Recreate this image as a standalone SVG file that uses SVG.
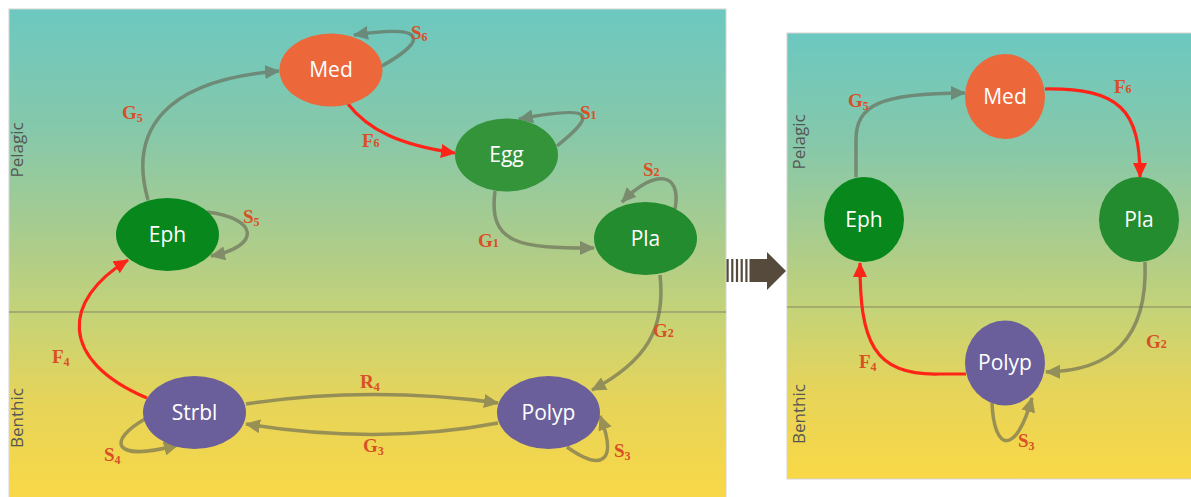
<svg xmlns="http://www.w3.org/2000/svg" width="1191" height="497" viewBox="0 0 1191 497">
  <defs>
    <linearGradient id="water" x1="0" y1="0" x2="0" y2="1">
      <stop offset="0" stop-color="#6cc8c0"/>
      <stop offset="0.25" stop-color="#86c8aa"/>
      <stop offset="0.5" stop-color="#b0cd88"/>
      <stop offset="0.62" stop-color="#c4d378"/>
      <stop offset="0.8" stop-color="#e6d45a"/>
      <stop offset="1" stop-color="#f9d846"/>
    </linearGradient>
    <marker id="ahGray" markerUnits="userSpaceOnUse" markerWidth="16" markerHeight="14" refX="14" refY="7" orient="auto">
      <path d="M0,0 L15,7 L0,14 z" fill="#666654"/>
    </marker>
    <marker id="ahRed" markerUnits="userSpaceOnUse" markerWidth="16" markerHeight="14" refX="14" refY="7" orient="auto">
      <path d="M0,0 L15,7 L0,14 z" fill="#ff2418"/>
    </marker>
  </defs>
  <style>
    .node-text { font-family: "Open Sans", "Noto Sans", sans-serif; font-size: 21px; fill: #ffffff; text-anchor: middle; }
    .zone { font-family: "Open Sans", "Noto Sans", sans-serif; font-size: 17px; fill: #555555; text-anchor: middle; }
    .lbl { font-family: "Liberation Serif", serif; font-weight: bold; font-size: 19px; fill: #d94f26; }
    .sub { font-size: 12px; }
    .gray { fill: none; stroke: #666654; stroke-width: 3.5; marker-end: url(#ahGray); }
    .red { fill: none; stroke: #ff2418; stroke-width: 3.2; marker-end: url(#ahRed); }
    .divider { stroke: #9a9e6a; stroke-width: 1.5; }
  </style>

  <rect width="1191" height="497" fill="#ffffff"/>

  <!-- full life cycle panel -->
  <g id="panel-full">
    <rect x="9" y="9" width="717" height="490" fill="url(#water)" stroke="#d4d4d4" stroke-width="1"/>
    <line class="divider" x1="9" y1="312" x2="726" y2="312"/>
    <text class="zone" transform="translate(23,150) rotate(-90)">Pelagic</text>
    <text class="zone" transform="translate(23,418) rotate(-90)">Benthic</text>
  </g>

  <!-- reduced life cycle panel -->
  <g id="panel-reduced">
    <rect x="787" y="33" width="405" height="446" fill="url(#water)" stroke="#d4d4d4" stroke-width="1"/>
    <line class="divider" x1="787" y1="307" x2="1191" y2="307"/>
    <text class="zone" transform="translate(805,142) rotate(-90)">Pelagic</text>
    <text class="zone" transform="translate(805,414) rotate(-90)">Benthic</text>
  </g>

  <!-- transition arrow between panels -->
  <g id="transition-arrow" fill="#554a3c">
    <rect x="726.5" y="259" width="2.2" height="23"/>
    <rect x="731.2" y="259" width="2.2" height="23"/>
    <rect x="735.9" y="259" width="2.2" height="23"/>
    <rect x="740.6" y="259" width="2.2" height="23"/>
    <rect x="745.3" y="259" width="2.2" height="23"/>
    <path d="M749.5,259 L767,259 L767,252 L786,271 L767,290 L767,282 L749.5,282 z"/>
  </g>

  <g id="connectors">
    <!-- full cycle: gray transitions -->
    <g opacity="0.62">
      <path class="gray" d="M148,200 C128,130 165,80 279,71"/>
      <path class="gray" d="M382,66 C428,40 428,24 354,35"/>
      <path class="gray" d="M557,146 C595,115 598,104 519,119"/>
      <path class="gray" d="M207,212 C258,218 262,246 211,256"/>
      <path class="gray" d="M495,191 C488,245 520,248 594,248"/>
      <path class="gray" d="M675,209 C682,172 655,168 622,202"/>
      <path class="gray" d="M660,275 C666,330 645,362 592,390"/>
      <path class="gray" d="M246,404 C330,391 420,392 498,403"/>
      <path class="gray" d="M498,423 C420,438 330,438 246,424"/>
      <path class="gray" d="M145,419 C108,440 110,463 178,445"/>
      <path class="gray" d="M567,447 C602,472 618,462 600,416"/>
      <!-- reduced cycle: gray transitions -->
      <path class="gray" d="M856,177 L856,140 C856,105 880,93 965,93"/>
      <path class="gray" d="M1145,262 C1148,340 1110,371 1046,372"/>
      <path class="gray" d="M992,403 C994,452 1016,456 1032,398"/>
    </g>
    <!-- red transitions -->
    <path class="red" d="M348,104 C368,130 400,145 455,153"/>
    <path class="red" d="M147,398 C58,360 62,300 128,260"/>
    <path class="red" d="M1045,89 C1120,88 1140,110 1140,177"/>
    <path class="red" d="M966,374 L940,374 C872,376 860,340 860,263"/>
  </g>

  <!-- full cycle nodes -->
  <g id="full-med"><ellipse cx="331" cy="70" rx="51.5" ry="36.5" fill="#ec683b"/><text class="node-text" x="331" y="77">Med</text></g>
  <g id="full-egg"><ellipse cx="506.5" cy="155" rx="51.5" ry="36.5" fill="#33943a"/><text class="node-text" x="506.5" y="162">Egg</text></g>
  <g id="full-pla"><ellipse cx="645.5" cy="238.5" rx="51.5" ry="36.5" fill="#228c2e"/><text class="node-text" x="645.5" y="246">Pla</text></g>
  <g id="full-eph"><ellipse cx="167.5" cy="234.5" rx="51.5" ry="36.5" fill="#07871c"/><text class="node-text" x="167.5" y="242">Eph</text></g>
  <g id="full-strbl"><ellipse cx="194.5" cy="412.5" rx="51.5" ry="36.5" fill="#6a5f9b"/><text class="node-text" x="194.5" y="420">Strbl</text></g>
  <g id="full-polyp"><ellipse cx="548.5" cy="412.5" rx="51.5" ry="36.5" fill="#6a5f9b"/><text class="node-text" x="548.5" y="420">Polyp</text></g>

  <!-- reduced cycle nodes -->
  <g id="reduced-med"><ellipse cx="1005" cy="96.5" rx="40" ry="42.5" fill="#ec683b"/><text class="node-text" x="1005" y="104">Med</text></g>
  <g id="reduced-eph"><ellipse cx="864" cy="219.5" rx="40" ry="42.5" fill="#07871c"/><text class="node-text" x="864" y="227">Eph</text></g>
  <g id="reduced-pla"><ellipse cx="1139" cy="219.5" rx="40" ry="42.5" fill="#228c2e"/><text class="node-text" x="1139" y="227">Pla</text></g>
  <g id="reduced-polyp"><ellipse cx="1005" cy="363" rx="40" ry="42.5" fill="#6a5f9b"/><text class="node-text" x="1005" y="370">Polyp</text></g>

  <!-- transition labels -->
  <g id="labels">
    <text class="lbl" x="411" y="39">S<tspan class="sub" dy="2">6</tspan></text>
    <text class="lbl" x="122" y="119">G<tspan class="sub" dy="3">5</tspan></text>
    <text class="lbl" x="362" y="147">F<tspan class="sub" dy="0">6</tspan></text>
    <text class="lbl" x="580" y="119">S<tspan class="sub" dy="0">1</tspan></text>
    <text class="lbl" x="243" y="223">S<tspan class="sub" dy="3">5</tspan></text>
    <text class="lbl" x="643" y="176">S<tspan class="sub" dy="0">2</tspan></text>
    <text class="lbl" x="478" y="247">G<tspan class="sub" dy="0">1</tspan></text>
    <text class="lbl" x="52" y="363">F<tspan class="sub" dy="3">4</tspan></text>
    <text class="lbl" x="360" y="388">R<tspan class="sub" dy="3">4</tspan></text>
    <text class="lbl" x="363" y="452">G<tspan class="sub" dy="3">3</tspan></text>
    <text class="lbl" x="104" y="461">S<tspan class="sub" dy="3">4</tspan></text>
    <text class="lbl" x="653" y="337">G<tspan class="sub" dy="0">2</tspan></text>
    <text class="lbl" x="614" y="457">S<tspan class="sub" dy="3">3</tspan></text>

    <text class="lbl" x="848" y="107">G<tspan class="sub" dy="3">5</tspan></text>
    <text class="lbl" x="1114" y="93">F<tspan class="sub" dy="0">6</tspan></text>
    <text class="lbl" x="1146" y="348">G<tspan class="sub" dy="0">2</tspan></text>
    <text class="lbl" x="859" y="368">F<tspan class="sub" dy="3">4</tspan></text>
    <text class="lbl" x="1018" y="447">S<tspan class="sub" dy="3">3</tspan></text>
  </g>
</svg>
